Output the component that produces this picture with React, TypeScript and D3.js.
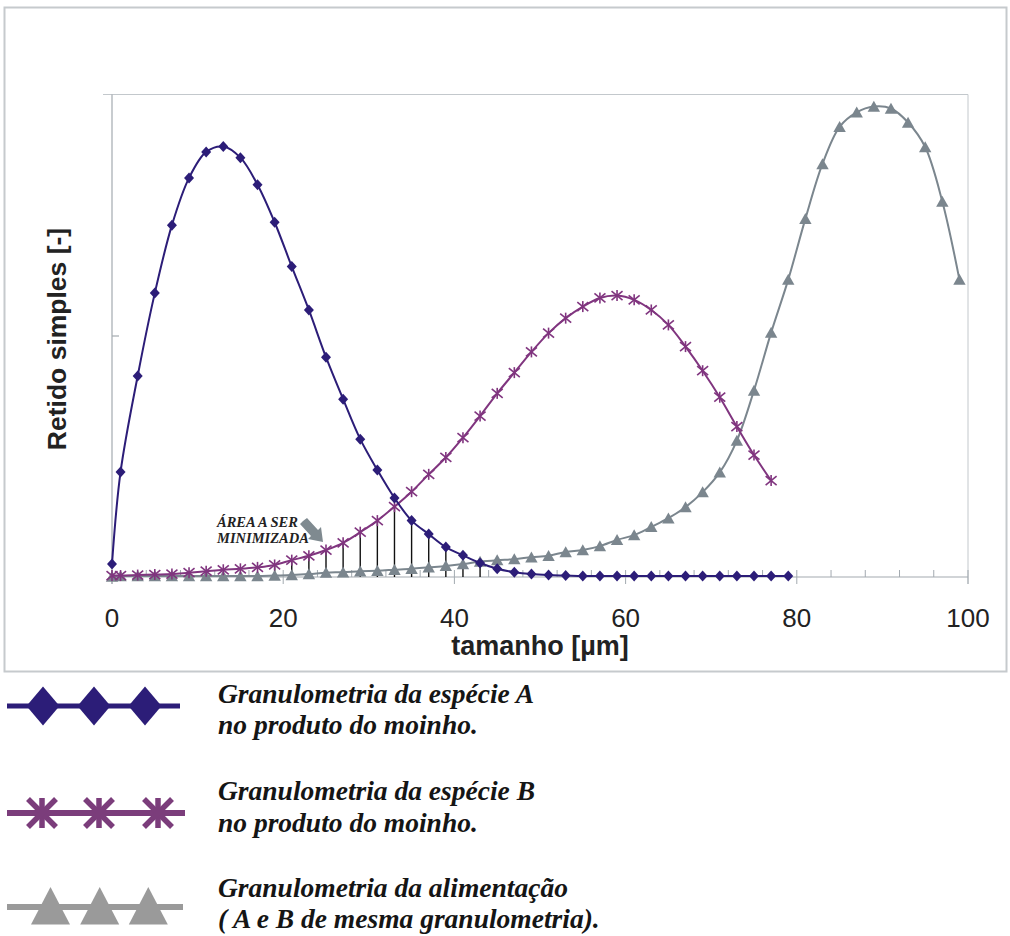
import React from 'react';
import * as d3 from 'd3';

// Particle sizes (µm) for each series
const sizesA = [0, 1, 3, 5, 7, 9, 11, 13, 15, 17, 19, 21, 23, 25, 27, 29, 31, 33, 35, 37, 39, 41, 43, 45, 47, 49, 51, 53, 55, 57, 59, 61, 63, 65, 67, 69, 71, 73, 75, 77, 79];
const valuesA = [2.7, 21.8, 41.7, 58.9, 73.0, 82.8, 88.2, 89.3, 87.0, 81.4, 73.6, 64.4, 55.4, 45.6, 36.9, 28.6, 22.2, 16.4, 11.7, 8.9, 6.2, 4.5, 2.9, 1.7, 1.0, 0.6, 0.4, 0.3, 0.2, 0.2, 0.2, 0.2, 0.2, 0.2, 0.2, 0.2, 0.2, 0.2, 0.2, 0.2, 0.2];

const sizesB = [0, 1, 3, 5, 7, 9, 11, 13, 15, 17, 19, 21, 23, 25, 27, 29, 31, 33, 35, 37, 39, 41, 43, 45, 47, 49, 51, 53, 55, 57, 59, 61, 63, 65, 67, 69, 71, 73, 75, 77];
const valuesB = [0.3, 0.3, 0.4, 0.5, 0.6, 0.9, 1.2, 1.5, 1.7, 2.0, 2.5, 3.5, 4.4, 5.6, 7.1, 9.3, 11.7, 14.6, 17.7, 21.3, 24.8, 28.9, 33.4, 38.1, 42.4, 46.7, 50.6, 53.7, 56.1, 57.9, 58.4, 57.5, 55.4, 52.3, 47.8, 42.8, 37.3, 31.2, 25.3, 20.0];

const sizesFeed = [0, 1, 3, 5, 7, 9, 11, 13, 15, 17, 19, 21, 23, 25, 27, 29, 31, 33, 35, 37, 39, 41, 43, 45, 47, 49, 51, 53, 55, 57, 59, 61, 63, 65, 67, 69, 71, 73, 75, 77, 79, 81, 83, 85, 87, 89, 91, 93, 95, 97, 99];
const valuesFeed = [0.1, 0.2, 0.2, 0.2, 0.2, 0.2, 0.2, 0.2, 0.2, 0.2, 0.3, 0.4, 0.6, 0.9, 1.0, 1.2, 1.3, 1.5, 1.7, 2.0, 2.3, 2.7, 3.2, 3.5, 3.7, 4.1, 4.4, 5.2, 5.6, 6.4, 7.7, 8.7, 10.4, 12.2, 14.5, 17.6, 21.7, 28.3, 38.7, 50.7, 61.7, 74.3, 85.7, 93.4, 96.4, 97.6, 97.2, 94.3, 89.2, 77.9, 61.7];

// sizes where the overlap is marked with vertical lines
const overlapSizes = [19, 21, 23, 25, 27, 29, 31, 33, 35, 37, 39, 41, 43];

const xTickLabels = [0, 20, 40, 60, 80, 100];
const xMinorTicks = [0, 4, 8, 12, 16, 20, 24, 28, 32, 36, 40, 44, 48, 52, 56, 60, 64, 68, 72, 76, 80, 84, 88, 92, 96, 100];
const yTicks = [0, 50, 100];

const xTitle = 'tamanho [µm]';
const yTitle = 'Retido simples [-]';
const annotationLines = ['ÁREA A SER', 'MINIMIZADA'];
const legendItems = [
  { key: 'A', lines: ['Granulometria da espécie A', 'no produto do moinho.'] },
  { key: 'B', lines: ['Granulometria da espécie B', 'no produto do moinho.'] },
  { key: 'F', lines: ['Granulometria da alimentação', '( A e B de mesma granulometria).'] },
];

const colA = '#2c1d78';
const colB = '#80357f';
const colF = '#7b868e';
const colFLegend = '#9a9a9a';
const colBLegend = '#7b3d7b';
const axisCol = '#a3aab0';

export default function App() {
  const W = 1010, H = 936;
  const left = 112, right = 968, top = 95, bottom = 577;
  const x = d3.scaleLinear().domain([0, 100]).range([left, right]);
  const y = d3.scaleLinear().domain([0, 100]).range([bottom, top]);

  const line = d3.line<[number, number]>()
    .x(d => x(d[0]))
    .y(d => y(d[1]))
    .curve(d3.curveCatmullRom.alpha(0.5));

  const dataA: [number, number][] = sizesA.map((s, i) => [s, valuesA[i]]);
  const dataB: [number, number][] = sizesB.map((s, i) => [s, valuesB[i]]);
  const dataF: [number, number][] = sizesFeed.map((s, i) => [s, valuesFeed[i]]);

  const drops = overlapSizes.map(s => {
    const a = valuesA[sizesA.indexOf(s)];
    const b = valuesB[sizesB.indexOf(s)];
    return { s, v: Math.min(a, b) };
  });

  const diamond = 'M0,-5.5L5,0L0,5.5L-5,0Z';
  const tri = 'M0,-5.8L6.2,5.2L-6.2,5.2Z';

  const legendY = [706, 813, 907];
  const legendMarkX = [[43, 94, 145], [42, 99, 158], [50.5, 99.7, 148.3]];
  const legendTextY = [[703, 734], [800, 832], [897, 928]];

  return (
    <svg width={W} height={H} style={{ position: 'absolute', left: 0, top: 0, background: '#fff' }}
      fontFamily="'Liberation Sans', Arial, sans-serif">
      <rect x={0} y={0} width={W} height={H} fill="#fff" />
      {/* outer chart box */}
      <rect x={4.5} y={7.5} width={1002} height={664} fill="none" stroke="#c6cacd" strokeWidth={2} />

      {/* plot frame */}
      <line x1={103} x2={right} y1={top - 0.5} y2={top - 0.5} stroke="#c3c8cc" strokeWidth={1} />
      <line x1={right} x2={right} y1={top - 0.5} y2={bottom + 7} stroke="#c3c8cc" strokeWidth={1} />
      {/* y axis */}
      <line x1={left} x2={left} y1={top - 0.5} y2={bottom + 7} stroke={axisCol} strokeWidth={1.2} />
      {yTicks.filter(t => t > 0 && t < 100).map(t => (
        <line key={t} x1={left} x2={left + 7} y1={y(t)} y2={y(t)} stroke={axisCol} strokeWidth={1.2} />
      ))}
      {/* x axis */}
      <line x1={left} x2={right} y1={bottom} y2={bottom} stroke={axisCol} strokeWidth={1.2} />
      {xMinorTicks.map(t => (
        <line key={t} x1={x(t)} x2={x(t)} y1={bottom - 7} y2={xTickLabels.includes(t) ? bottom + 7 : bottom}
          stroke={axisCol} strokeWidth={1} />
      ))}
      {xTickLabels.map(t => (
        <text key={t} x={x(t)} y={627} textAnchor="middle" fontSize={26} fill="#222">{t}</text>
      ))}
      <text x={540} y={655} textAnchor="middle" fontSize={27} fontWeight="bold" fill="#222">{xTitle}</text>
      <text transform={`translate(66,339) rotate(-90)`} textAnchor="middle" fontSize={26.5} fontWeight="bold" fill="#222">{yTitle}</text>

      {/* overlap drop lines */}
      {drops.map(d => (
        <line key={d.s} x1={x(d.s)} x2={x(d.s)} y1={y(d.v)} y2={bottom} stroke="#111" strokeWidth={1.4} />
      ))}

      {/* feed series */}
      <path d={line(dataF) || ''} fill="none" stroke={colF} strokeWidth={2} />
      {dataF.map((d, i) => (
        <path key={i} d={tri} transform={`translate(${x(d[0])},${y(d[1])})`} fill={colF} />
      ))}

      {/* species B */}
      <path d={line(dataB) || ''} fill="none" stroke={colB} strokeWidth={2} />
      {dataB.map((d, i) => (
        <g key={i} transform={`translate(${x(d[0])},${y(d[1])})`} stroke={colB} strokeWidth={1.6}>
          <line x1={0} x2={0} y1={-5.5} y2={5.5} />
          <line x1={-5.5} x2={5.5} y1={-4.5} y2={4.5} />
          <line x1={-5.5} x2={5.5} y1={4.5} y2={-4.5} />
        </g>
      ))}

      {/* species A */}
      <path d={line(dataA) || ''} fill="none" stroke={colA} strokeWidth={2} />
      {dataA.map((d, i) => (
        <path key={i} d={diamond} transform={`translate(${x(d[0])},${y(d[1])})`} fill={colA} />
      ))}

      {/* annotation */}
      <g fontFamily="'Liberation Serif', 'Times New Roman', serif" fontStyle="italic" fontWeight="bold" fontSize={14.5} fill="#222">
        <text x={217} y={527}>{annotationLines[0]}</text>
        <text x={217} y={543}>{annotationLines[1]}</text>
      </g>
      <path d="M303,521 L307,518 L318,530 L321,527 L323,542 L308,539 L311,536 L300,524 Z" fill="#7f8a90" />

      {/* legend */}
      {/* A */}
      <line x1={7} x2={180} y1={legendY[0]} y2={legendY[0]} stroke={colA} strokeWidth={5} />
      {legendMarkX[0].map(cx => (
        <path key={cx} d="M0,-19.5L16.5,0L0,19.5L-16.5,0Z" transform={`translate(${cx},${legendY[0]})`} fill={colA} />
      ))}
      {/* B */}
      <line x1={7} x2={185} y1={legendY[1]} y2={legendY[1]} stroke={colBLegend} strokeWidth={6} />
      {legendMarkX[1].map(cx => (
        <g key={cx} transform={`translate(${cx},${legendY[1]})`} stroke={colBLegend} strokeWidth={5.5}>
          <line x1={0} x2={0} y1={-15} y2={15} />
          <line x1={-14} x2={14} y1={-14} y2={14} />
          <line x1={-14} x2={14} y1={14} y2={-14} />
        </g>
      ))}
      {/* Feed */}
      <line x1={7} x2={183} y1={legendY[2]} y2={legendY[2]} stroke={colFLegend} strokeWidth={6} />
      {legendMarkX[2].map(cx => (
        <path key={cx} d="M0,-20L19.5,17.5L-19.5,17.5Z" transform={`translate(${cx},${legendY[2]})`} fill={colFLegend} />
      ))}
      <g fontFamily="'Liberation Serif', 'Times New Roman', serif" fontStyle="italic" fontWeight="bold" fontSize={27.5} fill="#151515">
        {legendItems.map((item, i) => (
          <g key={item.key}>
            <text x={218} y={legendTextY[i][0]}>{item.lines[0]}</text>
            <text x={218} y={legendTextY[i][1]}>{item.lines[1]}</text>
          </g>
        ))}
      </g>
    </svg>
  );
}
